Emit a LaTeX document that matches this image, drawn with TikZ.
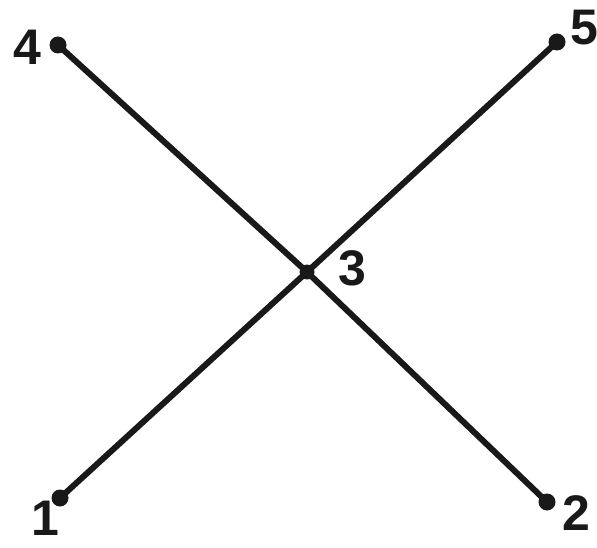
\documentclass[tikz,border=0pt]{standalone}
\usepackage{fontspec}
\setmainfont{Liberation Sans}
\begin{document}
\begin{tikzpicture}[x=1pt,y=-1pt,
  pt/.style={circle,fill=black!90,inner sep=0pt,minimum size=17pt},
  lbl/.style={font=\fontsize{50}{50}\selectfont\bfseries,inner sep=0pt,text=black!90},
  edge/.style={line width=6pt,black!90}]
\useasboundingbox[fill=white] (0,0) rectangle (597,548);
\node[pt] (p4) at (58,45) {};
\node[pt] (p5) at (557,42) {};
\node[pt,minimum size=15pt] (p3) at (307,272) {};
\node[pt] (p1) at (60,498) {};
\node[pt] (p2) at (547,502) {};
\node[lbl] (l4) at (27,47) {4};
\node[lbl] (l5) at (584,28) {5};
\node[lbl] (l3) at (352,268) {3};
\node[lbl] (l1) at (45,518) {1};
\node[lbl] (l2) at (576,513) {2};
\draw[edge] (p4.center) -- (p3.center) -- (p2.center);
\draw[edge] (p1.center) -- (p3.center) -- (p5.center);
\end{tikzpicture}
\end{document}
